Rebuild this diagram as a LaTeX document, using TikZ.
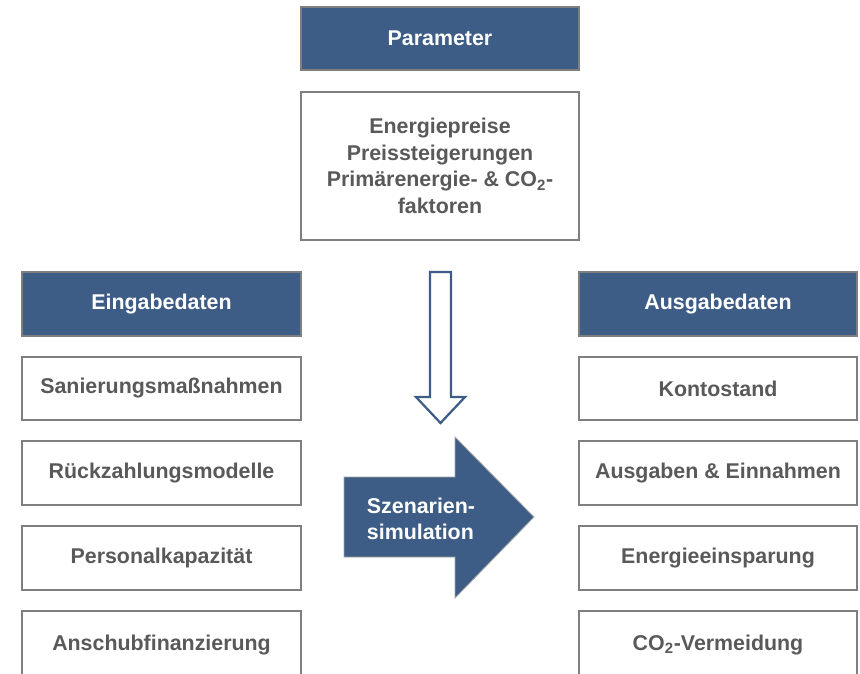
\documentclass[tikz,border=0pt]{standalone}
\usepackage{fontspec}
\setmainfont{Liberation Sans}
\definecolor{boxblue}{HTML}{3E5D86}
\definecolor{boxgray}{HTML}{7F7F7F}
\definecolor{textgray}{HTML}{595959}
\begin{document}
\begin{tikzpicture}[x=0.025cm, y=-0.025cm,
    hdr/.style={draw=boxgray, line width=1.4pt, fill=boxblue, text=white,
      minimum width=6.95cm, minimum height=1.58cm,
      font=\bfseries\fontsize{15.2}{18.8}\selectfont},
    item/.style={draw=boxgray, line width=1.4pt, fill=white, text=textgray,
      minimum width=6.95cm, minimum height=1.58cm, align=center,
      font=\bfseries\fontsize{15.2}{18.8}\selectfont}]
        \useasboundingbox (0, 0) rectangle (860, 673);
        \clip (0, 0) rectangle (860, 673);

        % top
        \node [hdr] (param) at (440, 38.5) {Parameter};
        \node [item, minimum height=3.7cm] (paramlist) at (440, 166)
          {Energiepreise\\Preissteigerungen\\Primärenergie- \& CO\textsubscript{2}-\\faktoren};

        % left column
        \node [hdr] (input) at (161.5, 304) {Eingabedaten};
        \node [item] (sanierung) at (161.5, 388.5) {Sanierungsmaßnahmen};
        \node [item] (rueckzahlung) at (161.5, 473) {Rückzahlungsmodelle};
        \node [item] (personal) at (161.5, 558) {Personalkapazität};
        \node [item, minimum height=1.7cm] (anschub) at (161.5, 645) {Anschubfinanzierung};

        % right column
        \node [hdr] (output) at (718, 304) {Ausgabedaten};
        \node [item] (konto) at (718, 388.5) {Kontostand};
        \node [item] (ausgaben) at (718, 473) {Ausgaben \& Einnahmen};
        \node [item] (einsparung) at (718, 558) {Energieeinsparung};
        \node [item, minimum height=1.7cm] (vermeidung) at (718, 645) {CO\textsubscript{2}-Vermeidung};

        % arrows
        \draw [boxblue, line width=1.6pt, fill=white]
          (430, 272) -- (451, 272) -- (451, 397) -- (465, 397) -- (440.5, 423)
          -- (416, 397) -- (430, 397) -- cycle;
        \draw [boxgray!70, line width=0.6pt, fill=boxblue]
          (344, 477) -- (455, 477) -- (455, 437) -- (534, 517) -- (455, 598)
          -- (455, 557) -- (344, 557) -- cycle;
        \node [text=white, align=left, font=\bfseries\fontsize{15.2}{18.8}\selectfont]
          (sim) at (421, 519) {Szenarien-\\simulation};
\end{tikzpicture}
\end{document}
